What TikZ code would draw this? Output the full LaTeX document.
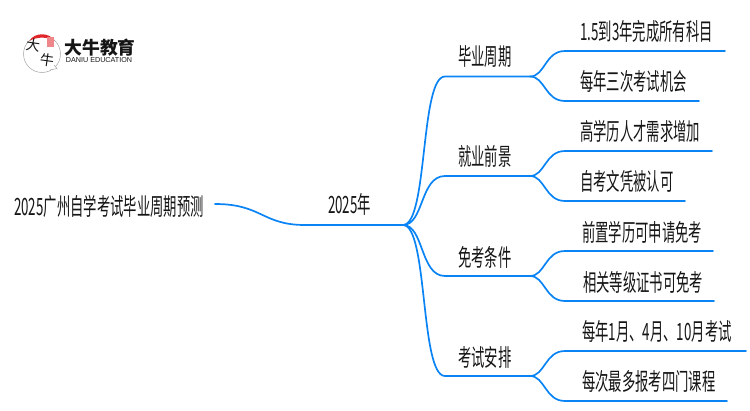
\documentclass[tikz,border=0pt]{standalone}
\usepackage{fontspec}
\usepackage{xcolor}
\usetikzlibrary{positioning}
\newfontfamily\cjk[FakeStretch=0.56]{Noto Sans CJK SC}
\newfontfamily\logofont{Noto Sans CJK SC}
\newfontfamily\latinfont{Liberation Sans}
\definecolor{branchblue}{HTML}{0A84F5}
\definecolor{inkgray}{HTML}{151515}
\definecolor{logored}{HTML}{E0252B}
\tikzset{
    label/.style={font=\cjk\fontsize{23.8}{24}\selectfont,text=inkgray,inner sep=0pt,anchor=west},
    link/.style={draw=branchblue,line width=1.7pt,line cap=round},
    logotext/.style={font=\logofont\fontsize{14}{14}\selectfont,text=inkgray,inner sep=0pt}
}

\begin{document}
\begin{tikzpicture}[x=1pt,y=-1pt]
    \useasboundingbox (0,0) rectangle (750,410);

    % Logo
    \draw[draw=black!35,line width=0.5pt] (42,54) circle (18.5);
    \draw[draw=black!35,line width=0.5pt,fill=white] (50,70) -- (57,68.5) -- (54,65);
    \fill[logored] (29.5,41) .. controls (34,32) and (50,32) .. (54.5,41) .. controls (47,36.5) and (37,36.5) .. (29.5,41);
    \fill[logored!55] (47,37) rectangle (54,47);
    \node[logotext,rotate=-8] (logoa) at (33,45) {大};
    \node[logotext,rotate=-8] (logob) at (47,60) {牛};
    \node[logotext,font=\logofont\bfseries\fontsize{17.8}{18}\selectfont] (logotitle) at (100,48) {大牛教育};
    \node[font=\latinfont\fontsize{7.2}{8}\selectfont,text=inkgray,inner sep=0pt] (logosub) at (99,60.5) {DANIU EDUCATION};

    % Root
    \node[label] (root) at (14,206) {2025广州自学考试毕业周期预测};
    \coordinate (rootend) at (215,204);
    \node[label] (year) at (328,204) {2025年};
    \coordinate (yearend) at (403,225);
    \draw[link] (rootend) .. controls (262,204) and (262,225) .. (305,225) -- (yearend);

    % Branches
    \node[label] (cycle) at (458,57) {毕业周期};
    \node[label] (career) at (458,156) {就业前景};
    \node[label] (exempt) at (458,257) {免考条件};
    \node[label] (plan) at (458,357) {考试安排};
    \coordinate (cyclehub) at (530,76.5);
    \coordinate (careerhub) at (530,176);
    \coordinate (exempthub) at (530,276);
    \coordinate (planhub) at (530,376);

    \draw[link] (yearend) .. controls (428,225) and (420,76.5) .. (445,76.5) -- (cyclehub);
    \draw[link] (yearend) .. controls (424,225) and (420,176) .. (445,176) -- (careerhub);
    \draw[link] (yearend) .. controls (424,225) and (420,276) .. (445,276) -- (exempthub);
    \draw[link] (yearend) .. controls (428,225) and (420,376) .. (445,376) -- (planhub);

    % Leaves
    \node[label] (leafa) at (580,31) {1.5到3年完成所有科目};
    \node[label] (leafb) at (580,81) {每年三次考试机会};
    \node[label] (leafc) at (580,131) {高学历人才需求增加};
    \node[label] (leafd) at (580,181) {自考文凭被认可};
    \node[label] (leafe) at (582,232) {前置学历可申请免考};
    \node[label] (leaff) at (583,282) {相关等级证书可免考};
    \node[label] (leafg) at (582,331) {每年1月、4月、10月考试};
    \node[label] (leafh) at (582,381) {每次最多报考四门课程};

    \coordinate (enda) at (725,51);
    \coordinate (endb) at (699,101);
    \coordinate (endc) at (712,151);
    \coordinate (endd) at (685,201);
    \coordinate (ende) at (713,251);
    \coordinate (endf) at (714,301);
    \coordinate (endg) at (746,351);
    \coordinate (endh) at (727,401);

    \draw[link] (cyclehub) .. controls (545,76.5) and (545,51) .. (565,51) -- (enda);
    \draw[link] (cyclehub) .. controls (545,76.5) and (545,101) .. (565,101) -- (endb);
    \draw[link] (careerhub) .. controls (545,176) and (545,151) .. (565,151) -- (endc);
    \draw[link] (careerhub) .. controls (545,176) and (545,201) .. (565,201) -- (endd);
    \draw[link] (exempthub) .. controls (545,276) and (545,251) .. (565,251) -- (ende);
    \draw[link] (exempthub) .. controls (545,276) and (545,301) .. (565,301) -- (endf);
    \draw[link] (planhub) .. controls (545,376) and (545,351) .. (565,351) -- (endg);
    \draw[link] (planhub) .. controls (545,376) and (545,401) .. (565,401) -- (endh);
\end{tikzpicture}
\end{document}
